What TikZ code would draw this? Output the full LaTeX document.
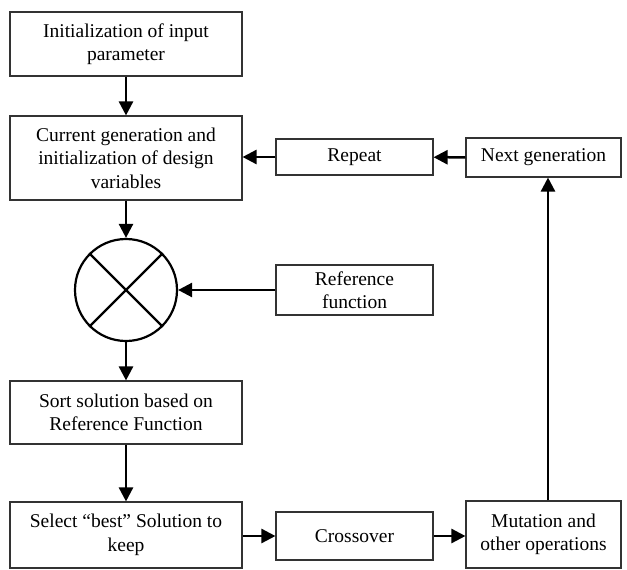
\documentclass[tikz,border=0pt]{standalone}
\usepackage{fontspec}
\setmainfont{Liberation Serif}
\usetikzlibrary{arrows.meta}
\begin{document}
\begin{tikzpicture}[x=1pt,y=-1pt,
  box/.style={draw=black!80,line width=1.1pt,align=center,inner sep=2pt,font=\fontsize{19.5}{23.5}\selectfont},
  arr/.style={line width=2.5pt,-{Triangle[length=14pt,width=14pt]}},
  ln/.style={line width=2.4pt}]
\useasboundingbox (0,0) rectangle (627,570);
\node[box,minimum width=232pt,minimum height=64pt] (init) at (126,44) {Initialization of input\\parameter};
\node[box,minimum width=232pt,minimum height=84pt] (cur) at (126,158) {Current generation and\\initialization of design\\variables};
\node[box,minimum width=157pt,minimum height=36pt] (rep) at (354.5,157) {Repeat};
\node[box,minimum width=155pt,minimum height=39pt] (next) at (543.5,157.5) {Next generation};
\node[draw,circle,line width=2.2pt,minimum size=102pt,inner sep=0pt] (mul) at (126,290) {};
\draw[ln] (mul.45) -- (mul.225);
\draw[ln] (mul.135) -- (mul.315);
\node[box,minimum width=157pt,minimum height=50pt] (ref) at (354.5,290) {Reference\\function};
\node[box,minimum width=232pt,minimum height=63pt] (sort) at (126,412.5) {Sort solution based on\\Reference Function};
\node[box,minimum width=232pt,minimum height=66pt] (sel) at (126,535) {Select ``best'' Solution to\\keep};
\node[box,minimum width=157pt,minimum height=48pt] (cross) at (354.5,536) {Crossover};
\node[box,minimum width=155pt,minimum height=67pt] (mut) at (543.5,534.5) {Mutation and\\other operations};
\draw[arr] (init) -- (cur);
\draw[arr] (cur) -- (mul);
\draw[arr] (mul) -- (sort);
\draw[arr] (sort) -- (sel);
\draw[arr] (ref) -- (mul);
\draw[arr] (rep) -- (cur.east |- rep);
\draw[arr] (next) -- (rep);
\draw[arr] (sel.east |- cross) -- (cross);
\draw[arr] (cross) -- (mut.west |- cross);
\coordinate (mt) at (548,501);
\draw[arr] (mut.north -| mt) -- (next.south -| mt);
\end{tikzpicture}
\end{document}
